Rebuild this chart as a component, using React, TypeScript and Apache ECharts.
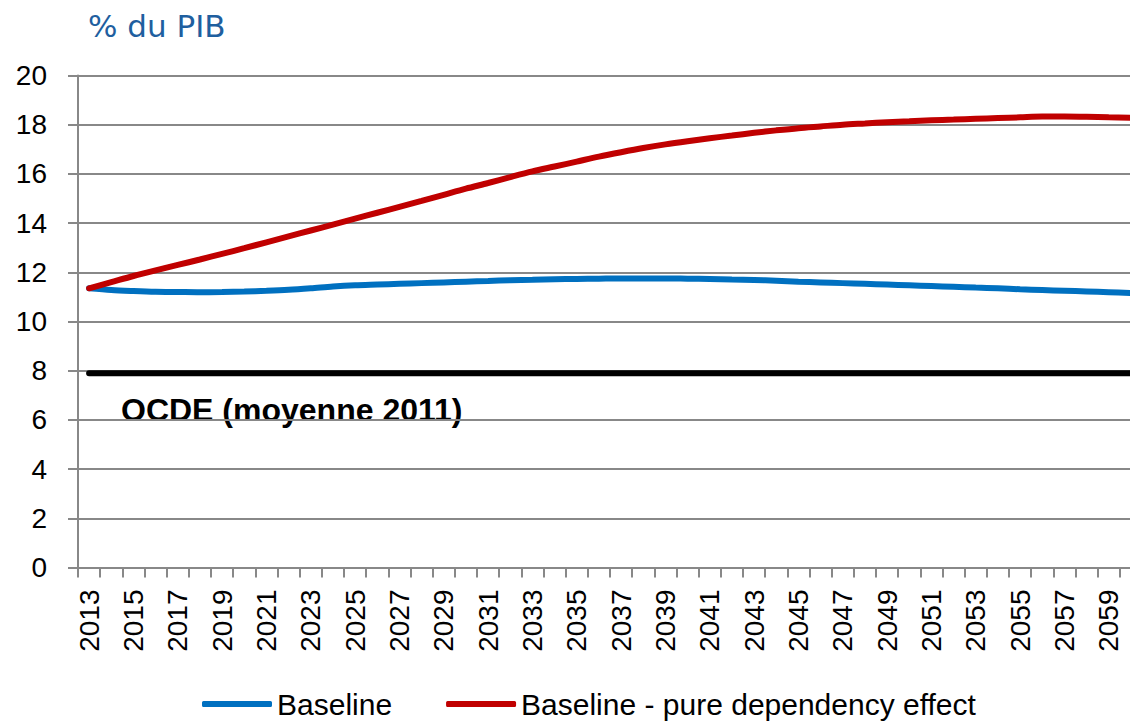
import React, { useEffect, useRef } from "react";
import * as echarts from "echarts";

const years: string[] = [];
for (let y = 2013; y <= 2060; y++) years.push(String(y));

const baseline = [
  11.35, 11.28, 11.24, 11.21, 11.2, 11.19, 11.2, 11.22, 11.25, 11.29,
  11.35, 11.42, 11.47, 11.5, 11.53, 11.56, 11.59, 11.62, 11.65, 11.68,
  11.7, 11.72, 11.73, 11.74, 11.75, 11.75, 11.75, 11.74, 11.73, 11.71,
  11.69, 11.66, 11.62, 11.59, 11.56, 11.53, 11.5, 11.47, 11.44, 11.41,
  11.38, 11.35, 11.31, 11.28, 11.25, 11.22, 11.19, 11.16,
];

const pureDependency = [
  11.35, 11.6, 11.85, 12.08, 12.3, 12.52, 12.75, 12.98, 13.22, 13.46,
  13.7, 13.94, 14.18, 14.42, 14.66, 14.9, 15.15, 15.4, 15.63, 15.87,
  16.1, 16.3, 16.5, 16.7, 16.88, 17.05, 17.2, 17.33, 17.45, 17.56,
  17.67, 17.77, 17.86, 17.93, 18.0, 18.05, 18.1, 18.14, 18.18, 18.21,
  18.24, 18.27, 18.3, 18.33, 18.33, 18.32, 18.3, 18.28,
];

const oecdAverage2011 = 7.9;
const oecdLine = years.map(() => oecdAverage2011);

const seriesNames = ["Baseline", "Baseline - pure dependency effect"];
const unitLabel = "% du PIB";
const oecdLabel = "OCDE (moyenne 2011)";

export default function App() {
  const ref = useRef<HTMLDivElement>(null);
  useEffect(() => {
    if (!ref.current) return;
    const chart = echarts.init(ref.current, null, { renderer: "svg" });
    const font = "Liberation Sans, Arial, sans-serif";
    chart.setOption({
      animation: false,
      backgroundColor: "#ffffff",
      grid: { left: 78, top: 75.5, right: 0, bottom: 155.5, containLabel: false },
      legend: {
        left: 197,
        top: 684,
        itemWidth: 70,
        itemHeight: 6,
        itemGap: 54,
        icon: "roundRect",
        data: seriesNames,
        textStyle: { fontFamily: font, fontSize: 30, color: "#000", padding: [0, 0, 0, 0] },
      },
      graphic: [
        {
          type: "text",
          left: 88,
          top: 10,
          style: {
            text: unitLabel,
            fontFamily: "DejaVu Sans, sans-serif",
            fontSize: 31,
            fill: "#1f5f9f",
          },
        },
        {
          type: "text",
          left: 121,
          top: 394,
          style: {
            text: oecdLabel,
            fontFamily: font,
            fontSize: 32,
            fontWeight: "bold",
            fill: "#000",
          },
        },
      ],
      xAxis: {
        type: "category",
        data: years,
        boundaryGap: true,
        axisLine: { lineStyle: { color: "#888", width: 2 } },
        axisTick: { show: true, interval: 0, length: 10, lineStyle: { color: "#888", width: 2 } },
        axisLabel: {
          interval: 1,
          rotate: 90,
          margin: 22,
          fontFamily: font,
          fontSize: 28,
          color: "#000",
        },
      },
      yAxis: {
        type: "value",
        min: 0,
        max: 20,
        interval: 2,
        axisLine: { show: true, lineStyle: { color: "#888", width: 2 } },
        axisTick: { show: true, length: 10, lineStyle: { color: "#888", width: 2 } },
        splitLine: { show: true, lineStyle: { color: "#888", width: 2 } },
        axisLabel: { margin: 31, fontFamily: font, fontSize: 28, color: "#000" },
      },
      series: [
        {
          name: "OCDE",
          type: "line",
          data: oecdLine,
          showSymbol: false,
          symbol: "none",
          lineStyle: { color: "#000", width: 6, cap: "round" },
          itemStyle: { color: "#000" },
          z: 2,
        },
        {
          name: seriesNames[0],
          type: "line",
          data: baseline,
          smooth: 0.3,
          showSymbol: false,
          symbol: "none",
          lineStyle: { color: "#0070c0", width: 6, cap: "round" },
          itemStyle: { color: "#0070c0" },
          z: 3,
        },
        {
          name: seriesNames[1],
          type: "line",
          data: pureDependency,
          smooth: 0.3,
          showSymbol: false,
          symbol: "none",
          lineStyle: { color: "#c00000", width: 6, cap: "round" },
          itemStyle: { color: "#c00000" },
          z: 4,
        },
      ],
    });
    return () => chart.dispose();
  }, []);
  return (
    <div style={{ position: "fixed", left: 0, top: 0, width: 1130, height: 723, overflow: "hidden", background: "#fff" }}>
      <div ref={ref} style={{ position: "absolute", left: 0, top: 0, width: 1142, height: 723 }} />
    </div>
  );
}
